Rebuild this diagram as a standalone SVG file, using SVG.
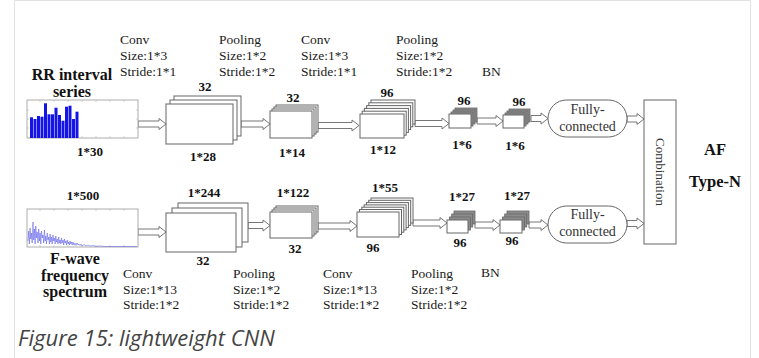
<svg xmlns="http://www.w3.org/2000/svg" width="759" height="358" viewBox="0 0 759 358">
<style>
.t{font-family:"Liberation Serif","Times New Roman",serif;font-size:13.5px;fill:#1a1a1a}
.b{font-family:"Liberation Serif","Times New Roman",serif;font-size:13px;font-weight:bold;fill:#111;text-anchor:middle}
.h{font-family:"Liberation Serif","Times New Roman",serif;font-size:16px;font-weight:bold;fill:#111;text-anchor:middle}
.fc{font-family:"Liberation Serif","Times New Roman",serif;font-size:14px;fill:#333;text-anchor:middle}
.blk{fill:#fff;stroke:#666;stroke-width:1}
.gr{fill:#8c8c8c;stroke:#666;stroke-width:0.8}
.arr{fill:#fff;stroke:#777;stroke-width:1}
.chart{fill:#fff;stroke:#999;stroke-width:0.8}
.cap{font-family:"Open Sans",sans-serif;font-style:italic;font-size:22px;fill:#444}
</style>
<rect width="759" height="358" fill="#fff"/>
<path d="M14.5 358 V0.5 H750.5 V358" fill="none" stroke="#e2e2e2" stroke-width="1"/>

<g id="connectors">
<path class="arr" d="M138 121 H159 V118.5 L166 124 L159 129.5 V127 H138 Z"/>
<path class="arr" d="M241 121 H263 V118.5 L270 124 L263 129.5 V127 H241 Z"/>
<path class="arr" d="M318 122.5 H352 V120 L359 125.5 L352 131 V128.5 H318 Z"/>
<path class="arr" d="M415 120.5 H442 V118 L449 123.5 L442 129 V126.5 H415 Z"/>
<path class="arr" d="M477 118 H496 V115.5 L503 121 L496 126.5 V124 H477 Z"/>
<path class="arr" d="M531 115.5 H541 V113 L548 118.5 L541 124 V121.5 H531 Z"/>
<path class="arr" d="M627 116 H637 V113.5 L644 119 L637 124.5 V122 H627 Z"/>
<path class="arr" d="M138 229 H159 V226.5 L166 232 L159 237.5 V235 H138 Z"/>
<path class="arr" d="M248 222.5 H263 V220 L270 225.5 L263 231 V228.5 H248 Z"/>
<path class="arr" d="M318 223 H350 V220.5 L357 226 L350 231.5 V229 H318 Z"/>
<path class="arr" d="M413 220 H440 V217.5 L447 223 L440 228.5 V226 H413 Z"/>
<path class="arr" d="M475 222 H493 V219.5 L500 225 L493 230.5 V228 H475 Z"/>
<path class="arr" d="M529 222 H541 V219.5 L548 225 L541 230.5 V228 H529 Z"/>
<path class="arr" d="M627 220.5 H637 V218 L644 223.5 L637 229 V226.5 H627 Z"/>
</g>

<g id="rr-input">
<rect class="chart" x="27" y="100" width="111" height="38"/>
<g stroke="#bbb" stroke-width="0.6">
<path d="M40 100 v2 M54 100 v2 M68 100 v2 M82 100 v2 M96 100 v2 M110 100 v2 M124 100 v2 M40 138 v-2 M54 138 v-2 M68 138 v-2 M82 138 v-2 M96 138 v-2 M110 138 v-2 M124 138 v-2 M27 110 h2 M27 119 h2 M27 128 h2 M138 110 h-2 M138 119 h-2 M138 128 h-2"/>
</g>
<g fill="#1414e6">
<rect x="30" y="117.3" width="3" height="20.7"/>
<rect x="33.5" y="119" width="3" height="19"/>
<rect x="37" y="116" width="3" height="22"/>
<rect x="40.5" y="116.7" width="3" height="21.3"/>
<rect x="44" y="103.3" width="3" height="34.7"/>
<rect x="47.5" y="114.3" width="3" height="23.7"/>
<rect x="51" y="114.3" width="3" height="23.7"/>
<rect x="54.5" y="107.7" width="3" height="30.3"/>
<rect x="58" y="115" width="3" height="23"/>
<rect x="61.5" y="120.7" width="3" height="17.3"/>
<rect x="65" y="106.7" width="3" height="31.3"/>
<rect x="68.5" y="105.7" width="3" height="32.3"/>
<rect x="72" y="119" width="3" height="19"/>
<rect x="75.5" y="111.7" width="3" height="26.3"/>
</g>
<text class="h" x="72" y="80">RR interval</text>
<text class="h" x="72" y="97">series</text>
<text class="b" x="90" y="156">1*30</text>
</g>

<g id="fwave-input">
<rect class="chart" x="27" y="209" width="111" height="38"/>
<g stroke="#bbb" stroke-width="0.6">
<path d="M40 209 v2 M54 209 v2 M68 209 v2 M82 209 v2 M96 209 v2 M110 209 v2 M124 209 v2 M40 247 v-2 M54 247 v-2 M68 247 v-2 M82 247 v-2 M96 247 v-2 M110 247 v-2 M124 247 v-2"/>
</g>
<polyline fill="none" stroke="#5050e8" stroke-width="0.6" stroke-opacity="0.85" points="28,241 28.7,231 29.4,244 30.1,228 30.8,239 31.5,233 32.2,243 33,222 33.7,240 34.4,229 35.1,244 35.8,226 36.5,238 37.2,232 38,243 38.7,229 39.4,241 40.1,233 40.8,244 41.5,231 42.2,238 43,235 43.7,243 44.4,230 45.1,241 45.8,236 46.5,244 47.2,233 48,240 48.7,237 49.4,244 50.1,234 50.8,242 51.5,237 52.2,244 53,235 53.7,241 54.4,238 55.1,244 55.8,236 56.5,242 57.2,239 58,244 58.7,237 59.4,243 60.1,240 60.8,244 61.5,238 62.2,243 63,240 63.7,245 64.4,239 65.1,243 65.8,241 66.5,245 67.2,240 68,244 68.7,242 69.4,245 70.1,241 70.8,244 71.5,242 72.2,245 73,242 74,245 75,243 76,245.5 77,243 78,245 79,244 80,245.5 81,244 82,246 84,244.5 86,246 88,245 90,246 93,245.5 96,246.3 100,246 105,246.5 137,246.5"/>
<text class="b" x="83" y="200">1*500</text>
<text class="h" x="75" y="264">F-wave</text>
<text class="h" x="75" y="281">frequency</text>
<text class="h" x="75" y="297">spectrum</text>
</g>

<g id="top-conv1">
<rect class="blk" x="174" y="96" width="67" height="40"/>
<rect class="blk" x="170" y="100" width="67" height="40"/>
<rect class="blk" x="166" y="104" width="67" height="40"/>
<text class="b" x="205" y="91">32</text>
<text class="b" x="203" y="161">1*28</text>
</g>
<g id="top-pool1">
<rect class="blk" x="276" y="105" width="42" height="27"/>
<rect class="blk" x="274" y="107" width="42" height="27"/>
<rect class="blk" x="272" y="109" width="42" height="27"/>
<rect class="blk" x="270" y="111" width="42" height="27"/>
<text class="b" x="293" y="102">32</text>
<text class="b" x="292" y="157">1*14</text>
</g>
<g id="top-conv2">
<rect class="blk" x="371" y="100" width="44" height="24"/>
<rect class="blk" x="368.8" y="102.8" width="44" height="24"/>
<rect class="blk" x="366.6" y="105.6" width="44" height="24"/>
<rect class="blk" x="364.4" y="108.4" width="44" height="24"/>
<rect class="blk" x="362.2" y="111.2" width="44" height="24"/>
<rect class="blk" x="360" y="114" width="44" height="24"/>
<text class="b" x="387" y="97">96</text>
<text class="b" x="383" y="154">1*12</text>
</g>
<g id="top-pool2">
<rect class="gr" x="455" y="108" width="22" height="14"/>
<rect class="gr" x="453" y="110" width="22" height="14"/>
<rect class="gr" x="451" y="112" width="22" height="14"/>
<rect class="blk" x="449" y="114" width="22" height="14"/>
<text class="b" x="464" y="105">96</text>
<text class="b" x="462" y="149">1*6</text>
</g>
<g id="top-bn">
<rect class="gr" x="509" y="109" width="21" height="13"/>
<rect class="gr" x="507" y="111" width="21" height="13"/>
<rect class="gr" x="505" y="113" width="21" height="13"/>
<rect class="blk" x="503" y="115" width="21" height="13"/>
<text class="b" x="519" y="106">96</text>
<text class="b" x="515" y="150">1*6</text>
</g>
<g id="top-fc">
<rect class="blk" x="548" y="100" width="79" height="37" rx="18.5"/>
<text class="fc" x="587.5" y="114">Fully-</text>
<text class="fc" x="587.5" y="131">connected</text>
</g>

<g id="bot-conv1">
<rect class="blk" x="178" y="203" width="70" height="39"/>
<rect class="blk" x="172" y="208" width="70" height="39"/>
<rect class="blk" x="166" y="213" width="70" height="39"/>
<text class="b" x="204" y="197">1*244</text>
<text class="b" x="203" y="265">32</text>
</g>
<g id="bot-pool1">
<rect class="blk" x="276" y="206" width="42" height="26"/>
<rect class="blk" x="274" y="208" width="42" height="26"/>
<rect class="blk" x="272" y="210" width="42" height="26"/>
<rect class="blk" x="270" y="212" width="42" height="26"/>
<text class="b" x="293" y="197">1*122</text>
<text class="b" x="295" y="253">32</text>
</g>
<g id="bot-conv2">
<rect class="blk" x="371" y="198" width="42" height="25"/>
<rect class="blk" x="368.7" y="200.3" width="42" height="25"/>
<rect class="blk" x="366.4" y="202.6" width="42" height="25"/>
<rect class="blk" x="364.1" y="204.9" width="42" height="25"/>
<rect class="blk" x="361.8" y="207.2" width="42" height="25"/>
<rect class="blk" x="359.5" y="209.5" width="42" height="25"/>
<rect class="blk" x="357" y="212" width="42" height="25"/>
<text class="b" x="385" y="192">1*55</text>
<text class="b" x="373" y="252">96</text>
</g>
<g id="bot-pool2">
<rect class="gr" x="454" y="211" width="21" height="13"/>
<rect class="gr" x="451.7" y="214" width="21" height="13"/>
<rect class="gr" x="449.4" y="217" width="21" height="13"/>
<rect class="blk" x="447" y="220" width="21" height="13"/>
<text class="b" x="462" y="201">1*27</text>
<text class="b" x="460" y="247">96</text>
</g>
<g id="bot-bn">
<rect class="gr" x="507" y="211" width="22" height="13"/>
<rect class="gr" x="504.7" y="214" width="22" height="13"/>
<rect class="gr" x="502.4" y="217" width="22" height="13"/>
<rect class="blk" x="500" y="220" width="22" height="13"/>
<text class="b" x="517" y="200">1*27</text>
<text class="b" x="512" y="245">96</text>
</g>
<g id="bot-fc">
<rect class="blk" x="548" y="206" width="79" height="37" rx="18.5"/>
<text class="fc" x="587.5" y="219">Fully-</text>
<text class="fc" x="587.5" y="236">connected</text>
</g>

<g id="combination">
<rect class="blk" x="644" y="100" width="32" height="144"/>
<text class="fc" style="font-size:13px" transform="translate(656,172) rotate(90)">Combination</text>
</g>
<g id="outputs">
<text class="h" style="font-size:16.5px" x="715" y="155">AF</text>
<text class="h" style="font-size:16.5px" x="715" y="187">Type-N</text>
</g>

<g id="params-top">
<text class="t" x="120" y="44">Conv</text>
<text class="t" x="120" y="60">Size:1*3</text>
<text class="t" x="120" y="76">Stride:1*1</text>
<text class="t" x="219" y="44">Pooling</text>
<text class="t" x="219" y="60">Size:1*2</text>
<text class="t" x="219" y="76">Stride:1*2</text>
<text class="t" x="301" y="44">Conv</text>
<text class="t" x="301" y="60">Size:1*3</text>
<text class="t" x="301" y="76">Stride:1*1</text>
<text class="t" x="396" y="44">Pooling</text>
<text class="t" x="396" y="60">Size:1*2</text>
<text class="t" x="396" y="76">Stride:1*2</text>
<text class="t" x="482" y="76">BN</text>
</g>
<g id="params-bottom">
<text class="t" x="123" y="278">Conv</text>
<text class="t" x="123" y="294">Size:1*13</text>
<text class="t" x="123" y="309">Stride:1*2</text>
<text class="t" x="233" y="278">Pooling</text>
<text class="t" x="233" y="294">Size:1*2</text>
<text class="t" x="233" y="309">Stride:1*2</text>
<text class="t" x="323" y="278">Conv</text>
<text class="t" x="323" y="294">Size:1*13</text>
<text class="t" x="323" y="309">Stride:1*2</text>
<text class="t" x="411" y="278">Pooling</text>
<text class="t" x="411" y="294">Size:1*2</text>
<text class="t" x="411" y="309">Stride:1*2</text>
<text class="t" x="481" y="277">BN</text>
</g>

<text class="cap" x="18" y="346">Figure 15: lightweight CNN</text>
</svg>
